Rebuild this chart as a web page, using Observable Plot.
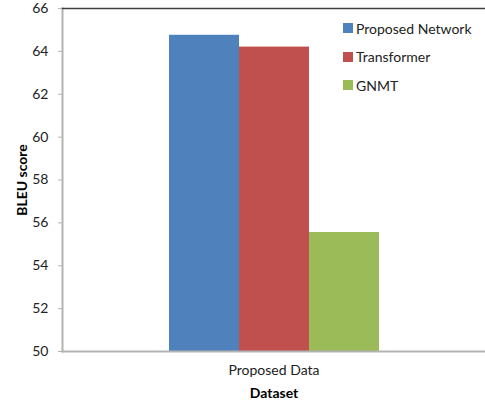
<!DOCTYPE html>
<html><head><meta charset="utf-8">
<script src="https://cdn.jsdelivr.net/npm/d3@7"></script>
<script src="https://cdn.jsdelivr.net/npm/@observablehq/plot@0.6"></script>
<style>
body{margin:0;background:#fff;font-family:Lato,"Open Sans",sans-serif;}
#wrap{position:relative;width:485px;height:407px;}
#legend{position:absolute;left:343px;top:14px;font-size:14px;color:#222;}
#legend div{height:28.5px;display:flex;align-items:center;}
#legend span.sw{display:inline-block;width:10px;height:10px;margin-right:3px;}
</style></head>
<body><div id="wrap"><div id="legend"></div></div>
<script>
const datasets = ["Proposed Data"];
const models = ["Proposed Network", "Transformer", "GNMT"];
const scores = [64.75, 64.2, 55.55];
const colors = ["#4F81BD", "#C0504D", "#9BBB59"];
const yTicks = [50, 52, 54, 56, 58, 60, 62, 64, 66];

const data = models.map((m, i) => ({dataset: datasets[0], model: m, value: scores[i]}));

const chart = Plot.plot({
  width: 485, height: 407,
  marginLeft: 62, marginTop: 8, marginBottom: 56, marginRight: 0,
  style: {fontFamily: "Lato, 'Open Sans', sans-serif", fontSize: "14px", color: "#222", background: "#fff"},
  fx: {domain: datasets, padding: 0, label: "Dataset"},
  x: {domain: models, paddingInner: 0, paddingOuter: 1.5, axis: null},
  y: {domain: [50, 66], ticks: yTicks, label: "BLEU score"},
  color: {domain: models, range: colors},
  marks: [
    Plot.barY(data, {fx: "dataset", x: "model", y: "value", y1: 50, fill: "model", inset: 0}),
    Plot.frame({anchor: "left", stroke: "#b3b3b3", strokeWidth: 2}),
    Plot.frame({anchor: "bottom", stroke: "#b3b3b3", strokeWidth: 2}),
    Plot.frame({anchor: "top", stroke: "#404040", strokeWidth: 1.5}),
    Plot.axisY({ticks: yTicks, tickSize: 4, tickPadding: 10, stroke: "#b3b3b3", label: "BLEU score", labelAnchor: "center", labelOffset: 45, labelArrow: "none", fontSize: 14}),
    Plot.axisFx({anchor: "bottom", tickSize: 0, tickPadding: 14, label: "Dataset", labelAnchor: "center", labelOffset: 46, labelArrow: "none", fontSize: 14})
  ]
});
document.getElementById("wrap").prepend(chart);
// bold axis titles only
chart.querySelectorAll("g[aria-label='y-axis label'] text, g[aria-label='fx-axis label'] text").forEach(t => {t.style.fontWeight = "bold"; t.style.fill = "#000";});

const leg = document.getElementById("legend");
models.forEach((m, i) => {
  const d = document.createElement("div");
  d.innerHTML = `<span class="sw" style="background:${colors[i]}"></span>${m}`;
  leg.appendChild(d);
});
</script></body></html>
